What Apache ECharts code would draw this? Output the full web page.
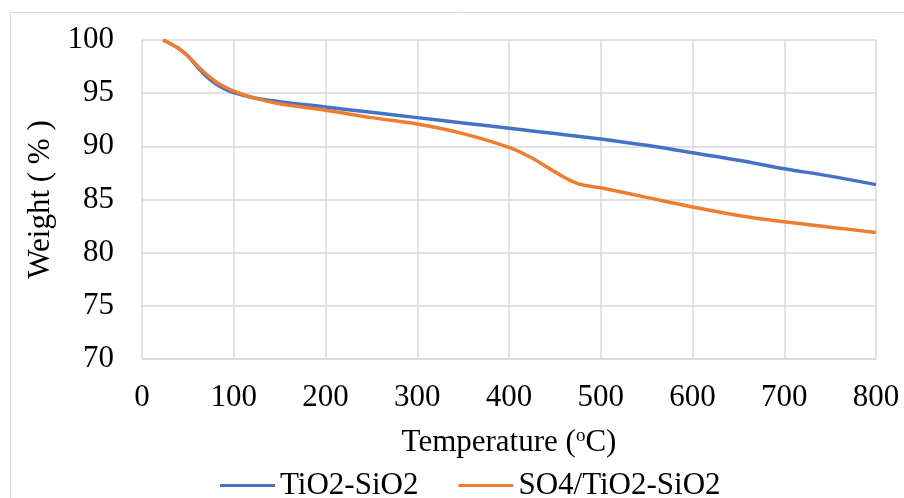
<!DOCTYPE html>
<html>
<head>
<meta charset="utf-8">
<script src="https://cdn.jsdelivr.net/npm/echarts@6/dist/echarts.min.js"></script>
<style>
  html, body { margin: 0; padding: 0; background: #fff; }
  #chart { width: 904px; height: 498px; }
</style>
</head>
<body>
<div id="chart"></div>
<script>
// temperature (°C) and weight (%)
const temps = [23, 40, 50, 60, 70, 80, 90, 100, 120, 150, 200, 250, 300, 350, 400, 425, 450, 475, 500, 550, 600, 650, 700, 750, 800];
const tio2SiO2 = [100, 99.2, 98.5, 97.5, 96.6, 95.9, 95.4, 95.05, 94.6, 94.2, 93.7, 93.2, 92.7, 92.2, 91.7, 91.45, 91.2, 90.95, 90.7, 90.1, 89.4, 88.7, 87.9, 87.2, 86.4];
const so4TiO2SiO2 = [100, 99.2, 98.5, 97.6, 96.8, 96.1, 95.6, 95.2, 94.6, 94.0, 93.4, 92.7, 92.1, 91.2, 89.9, 88.9, 87.6, 86.5, 86.1, 85.2, 84.3, 83.5, 82.9, 82.4, 81.9];
const seriesNames = ['TiO2-SiO2', 'SO4/TiO2-SiO2'];

const font = 'Liberation Serif, Times New Roman, serif';
const fontSize = 31;
const gridColor = '#d9d9d9';

const chart = echarts.init(document.getElementById('chart'));

chart.setOption({
  animation: false,
  graphic: [{
    type: 'rect',
    shape: { x: 10.5, y: 12.5, width: 910, height: 500 },
    style: { fill: 'none', stroke: gridColor, lineWidth: 1 },
    silent: true
  }],
  grid: { left: 142, right: 28, top: 40, bottom: 139 },
  legend: {
    bottom: -3,
    left: 220,
    padding: 0,
    icon: 'rect',
    itemWidth: 55,
    itemHeight: 3,
    itemGap: 40,
    textStyle: { fontFamily: font, fontSize: fontSize, color: '#000' },
    data: seriesNames
  },
  xAxis: {
    type: 'value',
    min: 0,
    max: 800,
    interval: 100,
    name: 'Temperature ({sup|o}C)',
    nameLocation: 'middle',
    nameGap: 68,
    nameTextStyle: {
      fontFamily: font, fontSize: fontSize, color: '#000',
      rich: { sup: { fontFamily: font, fontSize: 19, color: '#000', verticalAlign: 'top', padding: [0, 0, 12, 0] } }
    },
    axisLine: { show: true, lineStyle: { color: gridColor, width: 1.5 } },
    axisTick: { show: false },
    axisLabel: { fontFamily: font, fontSize: fontSize, color: '#000', margin: 23 },
    splitLine: { show: true, lineStyle: { color: gridColor, width: 1.5 } }
  },
  yAxis: {
    type: 'value',
    min: 70,
    max: 100,
    interval: 5,
    name: 'Weight ( % )',
    nameLocation: 'middle',
    nameGap: 84,
    nameTextStyle: { fontFamily: font, fontSize: fontSize, color: '#000' },
    axisLine: { show: false },
    axisTick: { show: false },
    axisLabel: { fontFamily: font, fontSize: fontSize, color: '#000', margin: 28 },
    splitLine: { show: true, lineStyle: { color: gridColor, width: 1.5 } }
  },
  series: [
    {
      name: seriesNames[0],
      type: 'line',
      smooth: 0.4,
      showSymbol: false,
      lineStyle: { color: '#4472C4', width: 3.5 },
      itemStyle: { color: '#4472C4' },
      data: temps.map((t, i) => [t, tio2SiO2[i]])
    },
    {
      name: seriesNames[1],
      type: 'line',
      smooth: 0.4,
      showSymbol: false,
      lineStyle: { color: '#ED7D31', width: 3.5 },
      itemStyle: { color: '#ED7D31' },
      data: temps.map((t, i) => [t, so4TiO2SiO2[i]])
    }
  ]
});
</script>
</body>
</html>
